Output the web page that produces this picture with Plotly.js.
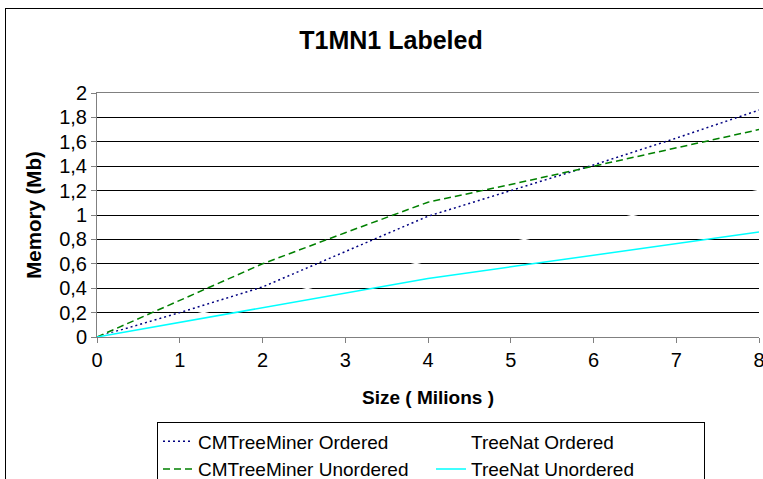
<!DOCTYPE html>
<html>
<head>
<meta charset="utf-8">
<script src="https://cdn.plot.ly/plotly-3.0.1.min.js"></script>
<style>
  html, body { margin: 0; padding: 0; background: #fff; overflow: hidden; }
  #wrap { position: relative; width: 763px; height: 479px; }
  #chart { position: absolute; left: 0; top: 0; width: 763px; height: 479px; }
  #frame { position: absolute; left: 5px; top: 8px; width: 820px; height: 520px;
           border: 1px solid #000; pointer-events: none; }
</style>
</head>
<body>
<div id="wrap">
  <div id="chart"></div>
  <div id="frame"></div>
</div>
<script>
// Data
var sizes = [0, 1, 2, 3, 4, 5, 6, 7, 8];               // Size (Milions)
var cmOrdered   = [0, 0.20, 0.41, 0.70, 0.99, 1.20, 1.41, 1.63, 1.86];
var cmUnordered = [0, 0.30, 0.60, 0.855, 1.105, 1.25, 1.40, 1.55, 1.70];
var tnOrdered   = [0, 0.157, 0.314, 0.47, 0.625, 0.775, 0.925, 1.075, 1.20];
var tnUnordered = [0, 0.12, 0.24, 0.36, 0.48, 0.575, 0.67, 0.765, 0.86];
var seriesNames = ['CMTreeMiner Ordered', 'TreeNat Ordered', 'CMTreeMiner Unordered', 'TreeNat Unordered'];
var yTickVals = [0, 0.2, 0.4, 0.6, 0.8, 1, 1.2, 1.4, 1.6, 1.8, 2];
var yTickText = ['0', '0,2', '0,4', '0,6', '0,8', '1', '1,2', '1,4', '1,6', '1,8', '2'];
var xTickVals = [0, 1, 2, 3, 4, 5, 6, 7, 8];

var traces = [
  { x: sizes, y: cmOrdered, name: seriesNames[0], mode: 'lines',
    line: { color: '#000080', width: 1.5, dash: '2px,3px' } },
  { x: sizes, y: tnOrdered, name: seriesNames[1], mode: 'lines',
    line: { color: '#FFFFFF', width: 1.5 } },
  { x: sizes, y: cmUnordered, name: seriesNames[2], mode: 'lines',
    line: { color: '#008000', width: 1.5, dash: '7px,4px' } },
  { x: sizes, y: tnUnordered, name: seriesNames[3], mode: 'lines',
    line: { color: '#00FFFF', width: 1.5 } }
];

var font = 'Liberation Sans, Arial, sans-serif';
var layout = {
  width: 763, height: 479,
  margin: { l: 97, r: 4, t: 93, b: 142 },
  paper_bgcolor: '#FFFFFF', plot_bgcolor: '#FFFFFF',
  font: { family: font, color: '#000', size: 20 },
  title: { text: '<b>T1MN1 Labeled</b>', font: { family: font, size: 25, color: '#000' },
           xref: 'container', x: 391 / 763, xanchor: 'center',
           yref: 'container', y: 1 - 40 / 479, yanchor: 'middle' },
  xaxis: {
    range: [0, 8], tickvals: xTickVals, ticktext: xTickVals.map(String),
    ticks: 'outside', ticklen: 5, tickcolor: '#808080', tickwidth: 1,
    ticklabeloverflow: 'allow',
    showline: true, linecolor: '#808080', linewidth: 1, mirror: true,
    showgrid: false, zeroline: false,
    tickfont: { family: font, size: 20, color: '#000' },
    title: { text: '<b>Size ( Milions )</b>', font: { family: font, size: 19, color: '#000' }, standoff: 20 }
  },
  yaxis: {
    range: [0, 2], tickvals: yTickVals, ticktext: yTickText,
    ticks: 'outside', ticklen: 5, tickcolor: '#808080', tickwidth: 1,
    showline: true, linecolor: '#808080', linewidth: 1,
    showgrid: true, gridcolor: '#000000', gridwidth: 1, zeroline: false,
    tickfont: { family: font, size: 20, color: '#000' },
    title: { text: '<b>Memory (Mb)</b>', font: { family: font, size: 20.5, color: '#000' }, standoff: 12 }
  },
  showlegend: true,
  legend: {
    orientation: 'h', traceorder: 'normal',
    xref: 'container', yref: 'container',
    x: 157 / 763, xanchor: 'left', y: 1 - 421.5 / 479, yanchor: 'top',
    bordercolor: '#000', borderwidth: 1, bgcolor: '#FFFFFF',
    font: { family: font, size: 19, color: '#000' },
    itemwidth: 30, entrywidth: 228, tracegroupgap: 0
  }
};

Plotly.newPlot('chart', traces, layout, { staticPlot: true, displayModeBar: false });
</script>
</body>
</html>
